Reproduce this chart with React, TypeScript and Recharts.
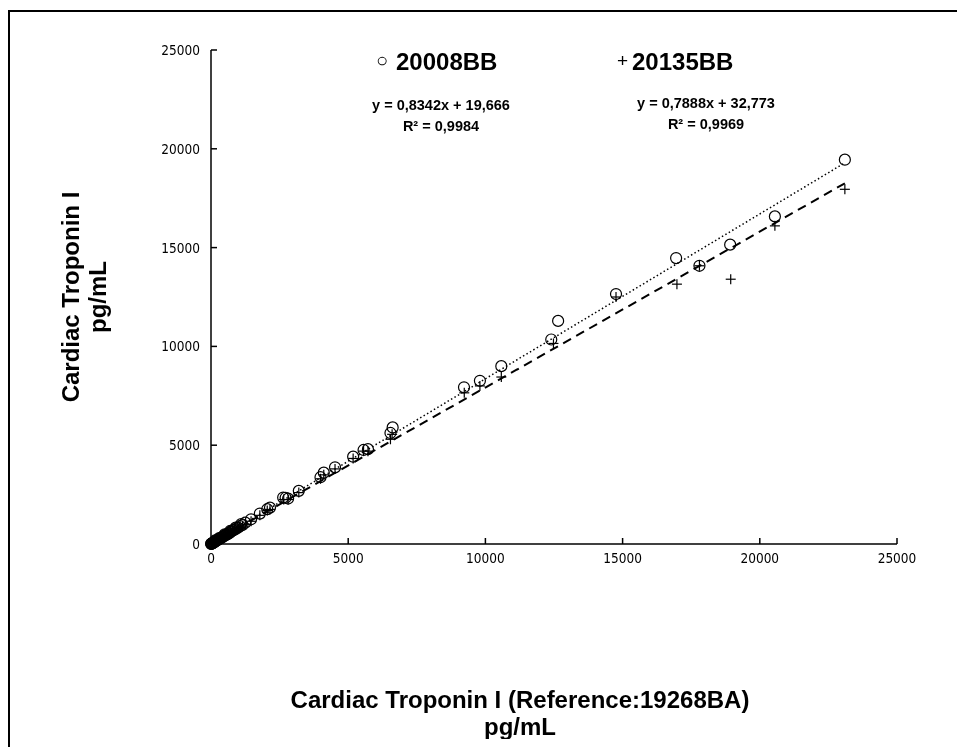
import React from "react";
import { ScatterChart, Scatter, XAxis, YAxis } from "recharts";

// 20008BB (circles)
const seriesA = [
  { x: 23100, y: 19450 }, { x: 20550, y: 16580 }, { x: 18920, y: 15150 },
  { x: 17800, y: 14080 }, { x: 16950, y: 14470 }, { x: 14760, y: 12650 },
  { x: 12650, y: 11290 }, { x: 12400, y: 10350 }, { x: 10580, y: 9000 },
  { x: 9800, y: 8260 }, { x: 9220, y: 7930 }, { x: 6620, y: 5900 },
  { x: 6540, y: 5620 }, { x: 5720, y: 4800 }, { x: 5560, y: 4760 },
  { x: 5180, y: 4420 }, { x: 4520, y: 3880 }, { x: 4110, y: 3610 },
  { x: 3990, y: 3380 }, { x: 3200, y: 2690 }, { x: 2810, y: 2300 },
  { x: 2720, y: 2340 }, { x: 2630, y: 2350 }, { x: 2150, y: 1840 },
  { x: 2050, y: 1760 }, { x: 1780, y: 1540 }, { x: 1460, y: 1250 },
  { x: 1250, y: 1080 }, { x: 1150, y: 960 }, { x: 1100, y: 1010 },
  { x: 1050, y: 900 }, { x: 980, y: 830 }, { x: 900, y: 760 },
  { x: 900, y: 830 }, { x: 850, y: 720 }, { x: 800, y: 690 },
  { x: 740, y: 630 }, { x: 700, y: 600 }, { x: 700, y: 660 },
  { x: 650, y: 540 }, { x: 600, y: 500 }, { x: 560, y: 470 },
  { x: 520, y: 450 }, { x: 500, y: 490 }, { x: 480, y: 410 },
  { x: 440, y: 370 }, { x: 400, y: 340 }, { x: 360, y: 300 },
  { x: 330, y: 280 }, { x: 300, y: 250 }, { x: 300, y: 300 },
  { x: 270, y: 230 }, { x: 240, y: 200 }, { x: 210, y: 180 },
  { x: 180, y: 150 }, { x: 160, y: 140 }, { x: 150, y: 180 },
  { x: 140, y: 120 }, { x: 120, y: 100 }, { x: 100, y: 85 },
  { x: 85, y: 70 }, { x: 70, y: 60 }, { x: 55, y: 48 },
  { x: 40, y: 35 }, { x: 30, y: 26 }, { x: 20, y: 18 },
  { x: 12, y: 10 }, { x: 6, y: 6 },
];

// 20135BB (plus)
const seriesB = [
  { x: 23100, y: 17950 }, { x: 20550, y: 16100 }, { x: 18940, y: 13400 },
  { x: 17800, y: 14080 }, { x: 16980, y: 13150 }, { x: 14760, y: 12500 },
  { x: 12480, y: 10150 }, { x: 10580, y: 8450 }, { x: 9800, y: 8000 },
  { x: 9230, y: 7650 }, { x: 6600, y: 5550 }, { x: 6540, y: 5300 },
  { x: 5720, y: 4700 }, { x: 5560, y: 4700 }, { x: 5180, y: 4330 },
  { x: 4520, y: 3800 }, { x: 4110, y: 3500 }, { x: 3990, y: 3300 },
  { x: 3200, y: 2600 }, { x: 2810, y: 2250 }, { x: 2650, y: 2250 },
  { x: 2150, y: 1750 }, { x: 2050, y: 1700 }, { x: 1780, y: 1450 },
  { x: 1460, y: 1150 }, { x: 1250, y: 1000 }, { x: 1150, y: 900 },
  { x: 1050, y: 840 }, { x: 1000, y: 760 }, { x: 980, y: 780 },
  { x: 900, y: 720 }, { x: 850, y: 680 }, { x: 800, y: 640 },
  { x: 800, y: 600 }, { x: 740, y: 590 }, { x: 700, y: 560 },
  { x: 650, y: 510 }, { x: 600, y: 480 }, { x: 600, y: 430 },
  { x: 560, y: 450 }, { x: 520, y: 420 }, { x: 480, y: 380 },
  { x: 440, y: 350 }, { x: 400, y: 320 }, { x: 400, y: 280 },
  { x: 360, y: 290 }, { x: 330, y: 260 }, { x: 300, y: 240 },
  { x: 270, y: 215 }, { x: 240, y: 190 }, { x: 210, y: 170 },
  { x: 200, y: 140 }, { x: 180, y: 145 }, { x: 160, y: 130 },
  { x: 140, y: 110 }, { x: 120, y: 95 }, { x: 100, y: 80 },
  { x: 85, y: 68 }, { x: 70, y: 56 }, { x: 55, y: 45 },
  { x: 40, y: 33 }, { x: 30, y: 25 }, { x: 20, y: 17 },
  { x: 12, y: 10 }, { x: 6, y: 5 },
];

// trendline endpoints (y = 0,8342x + 19,666 and y = 0,7888x + 32,773)
const trendA = [{ x: 0, y: 20 }, { x: 23100, y: 19290 }];
const trendB = [{ x: 0, y: 33 }, { x: 23100, y: 18254 }];

const ticks = [0, 5000, 10000, 15000, 20000, 25000];

const tickFont = "'Liberation Sans Narrow', 'DejaVu Sans Condensed', sans-serif";
const boldFont = "'Liberation Sans', Arial, sans-serif";

const Circle = (props: any) => (
  <circle cx={props.cx} cy={props.cy} r={5.5} fill="none" stroke="#000" strokeWidth={1.2} />
);

const Plus = (props: any) => {
  const { cx, cy } = props;
  return (
    <g stroke="#000" strokeWidth={1.2}>
      <line x1={cx - 5} x2={cx + 5} y1={cy} y2={cy} />
      <line x1={cx} x2={cx} y1={cy - 5} y2={cy + 5} />
    </g>
  );
};

const NoDot = () => <g />;

const XTick = (props: any) => {
  const { x, y, payload } = props;
  return (
    <g>
      <line x1={x} x2={x} y1={y} y2={y - 6} stroke="#000" strokeWidth={1.5} />
      <text x={x} y={y + 19} textAnchor="middle" fontFamily={tickFont} fontSize={13.5} fill="#000">
        {payload.value}
      </text>
    </g>
  );
};

const YTick = (props: any) => {
  const { x, y, payload } = props;
  return (
    <g>
      <line x1={x} x2={x + 6} y1={y} y2={y} stroke="#000" strokeWidth={1.5} />
      <text x={x - 11} y={y + 5} textAnchor="end" fontFamily={tickFont} fontSize={13.5} fill="#000">
        {payload.value}
      </text>
    </g>
  );
};

const abs = (left: number, top: number, extra: React.CSSProperties = {}): React.CSSProperties => ({
  position: "absolute",
  left,
  top,
  fontFamily: boldFont,
  fontWeight: "bold",
  color: "#000",
  whiteSpace: "nowrap",
  ...extra,
});

export default function App() {
  return (
    <div style={{ position: "relative", width: 949, height: 731, overflow: "hidden", background: "#fff" }}>
      <div
        style={{
          position: "fixed",
          left: 8,
          top: 10,
          width: 1000,
          height: 800,
          borderTop: "2px solid #000",
          borderLeft: "2px solid #000",
          pointerEvents: "none",
        }}
      />
      <ScatterChart width={949} height={731} margin={{ top: 42, right: 60, left: 0, bottom: 165 }}>
        <XAxis
          type="number"
          dataKey="x"
          domain={[0, 25000]}
          ticks={ticks}
          height={30}
          tickSize={0}
          tickMargin={0}
          tickLine={false}
          tick={<XTick />}
          axisLine={{ stroke: "#000", strokeWidth: 1.5 }}
        />
        <YAxis
          type="number"
          dataKey="y"
          domain={[0, 25000]}
          ticks={ticks}
          width={203}
          tickSize={0}
          tickMargin={0}
          tickLine={false}
          tick={<YTick />}
          axisLine={{ stroke: "#000", strokeWidth: 1.5 }}
        />
        <Scatter
          data={trendA}
          line={{ stroke: "#000", strokeWidth: 1.5, strokeDasharray: "1.5 2.5" }}
          shape={<NoDot />}
          isAnimationActive={false}
        />
        <Scatter
          data={trendB}
          line={{ stroke: "#000", strokeWidth: 2, strokeDasharray: "9 6" }}
          shape={<NoDot />}
          isAnimationActive={false}
        />
        <Scatter data={seriesA} shape={<Circle />} isAnimationActive={false} />
        <Scatter data={seriesB} shape={<Plus />} isAnimationActive={false} />
      </ScatterChart>

      {/* legend */}
      <div style={abs(368, 41, { fontSize: 20, fontWeight: "normal" })}>○</div>
      <div style={abs(388, 40, { fontSize: 24 })}>20008BB</div>
      <div style={abs(609, 42, { fontSize: 19, fontWeight: "normal" })}>+</div>
      <div style={abs(624, 40, { fontSize: 24 })}>20135BB</div>

      <div style={abs(433, 87, { fontSize: 14.5, textAlign: "center", transform: "translateX(-50%)", lineHeight: "21px" })}>
        y = 0,8342x + 19,666
        <br />
        R² = 0,9984
      </div>
      <div style={abs(698, 85, { fontSize: 14.5, textAlign: "center", transform: "translateX(-50%)", lineHeight: "21px" })}>
        y = 0,7888x + 32,773
        <br />
        R² = 0,9969
      </div>

      {/* axis titles */}
      <div style={abs(512, 678, { fontSize: 24, textAlign: "center", transform: "translateX(-50%)", lineHeight: "27px" })}>
        Cardiac Troponin I (Reference:19268BA)
        <br />
        pg/mL
      </div>
      <div
        style={abs(76, 289, {
          fontSize: 24,
          textAlign: "center",
          lineHeight: "27px",
          transform: "translate(-50%, -50%) rotate(-90deg)",
        })}
      >
        Cardiac Troponin I
        <br />
        pg/mL
      </div>
    </div>
  );
}
